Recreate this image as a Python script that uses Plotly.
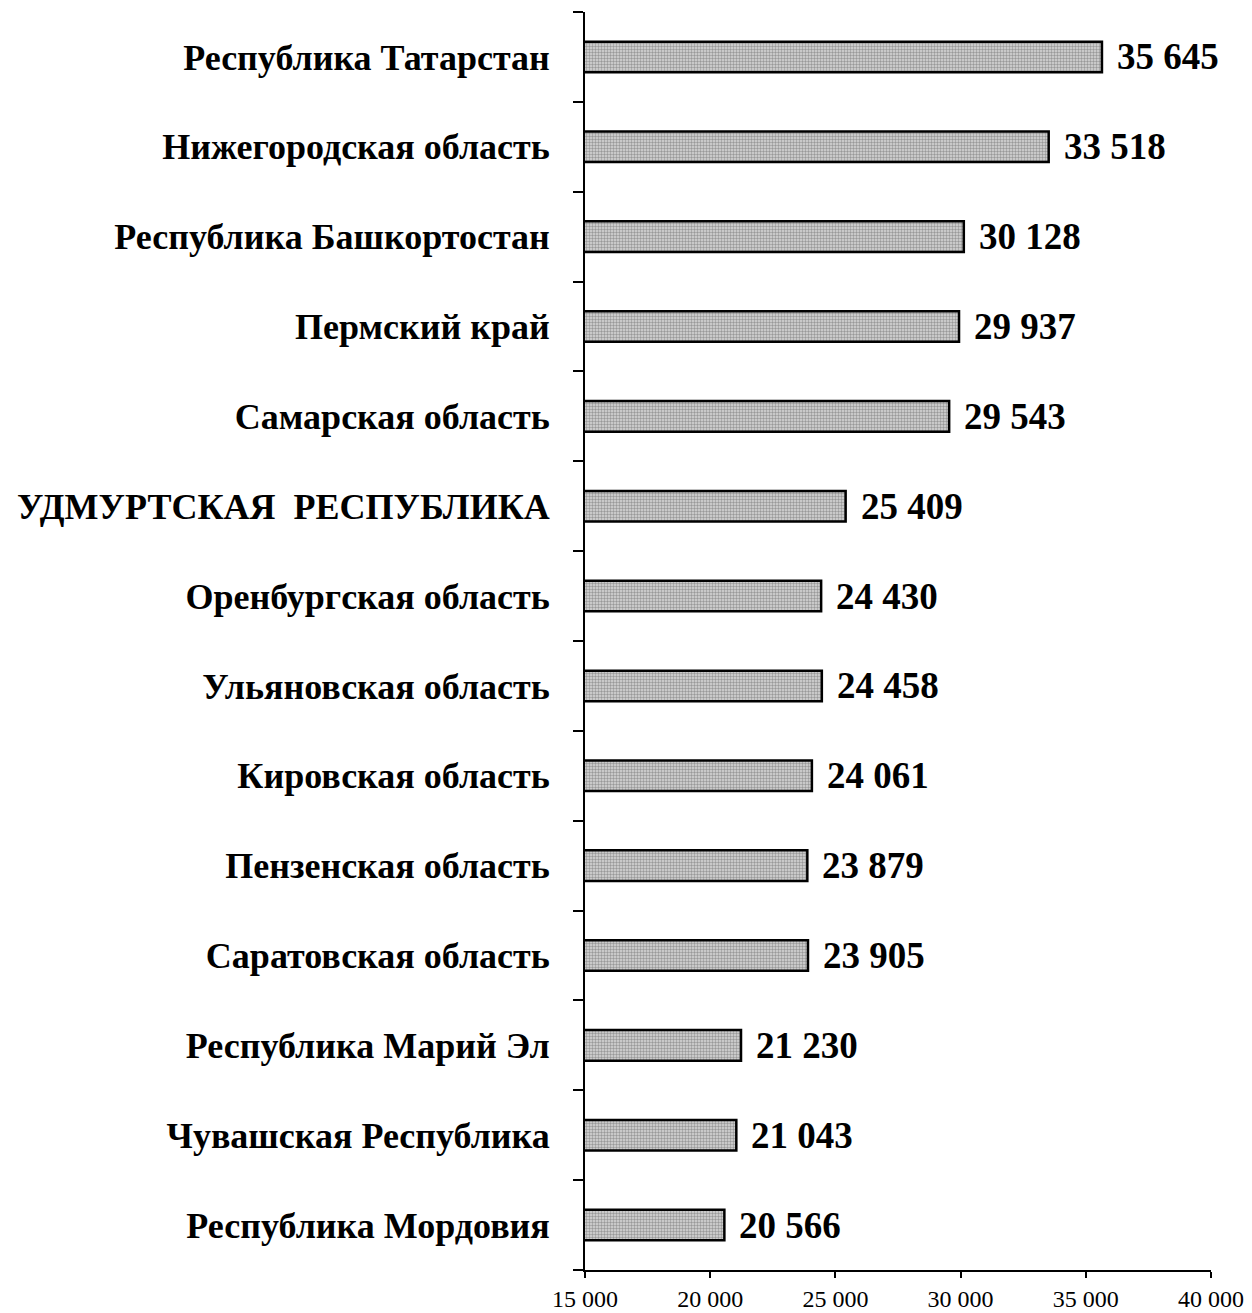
import plotly.graph_objects as go

regions = [
    "Республика Татарстан",
    "Нижегородская область",
    "Республика Башкортостан",
    "Пермский край",
    "Самарская область",
    "УДМУРТСКАЯ  РЕСПУБЛИКА",
    "Оренбургская область",
    "Ульяновская область",
    "Кировская область",
    "Пензенская область",
    "Саратовская область",
    "Республика Марий Эл",
    "Чувашская Республика",
    "Республика Мордовия",
]
values = [35645, 33518, 30128, 29937, 29543, 25409, 24430, 24458, 24061, 23879, 23905, 21230, 21043, 20566]
tick_vals = [15000, 20000, 25000, 30000, 35000, 40000]
tick_text = ["15 000", "20 000", "25 000", "30 000", "35 000", "40 000"]


def fmt(v):
    return f"{v:,}".replace(",", " ")


FONT = "Liberation Serif, Times New Roman, serif"

fig = go.Figure()
fig.add_trace(go.Bar(
    x=values,
    y=regions,
    orientation="h",
    base=0,
    marker=dict(
        color="#c8c8c8",
        line=dict(color="black", width=2.5),
        pattern=dict(shape=".", fgcolor="#5a5a5a", bgcolor="#d8d8d8", size=3, solidity=0.5),
    ),
    hoverinfo="skip",
))

for r, v in zip(regions, values):
    fig.add_annotation(
        x=v, y=r, text=f"<b>{fmt(v)}</b>", showarrow=False,
        xanchor="left", yanchor="middle", xshift=13,
        font=dict(family=FONT, size=37, color="black"),
    )

fig.update_layout(
    width=1244, height=1305,
    margin=dict(l=577, r=41, t=4, b=43),
    paper_bgcolor="white", plot_bgcolor="white",
    bargap=0.66,
    showlegend=False,
    font=dict(family=FONT, color="black"),
)
fig.update_xaxes(
    range=[15000, 40000],
    tickvals=tick_vals, ticktext=tick_text,
    ticks="outside", ticklen=6, tickwidth=2, tickcolor="black",
    showline=True, linecolor="black", linewidth=2,
    showgrid=False, zeroline=False, automargin=False,
    tickfont=dict(family=FONT, size=24, color="black"),
)
fig.update_yaxes(
    autorange="reversed",
    tickmode="array", tickvals=regions,
    ticktext=[f"<b>{r}</b>" for r in regions],
    ticks="outside", tickson="boundaries", ticklen=10, tickwidth=2, tickcolor="black",
    showline=True, linecolor="black", linewidth=2,
    showgrid=False, zeroline=False, automargin=False,
    ticklabelstandoff=26,
    tickfont=dict(family=FONT, size=36, color="black"),
)

fig.write_html("out.html")
